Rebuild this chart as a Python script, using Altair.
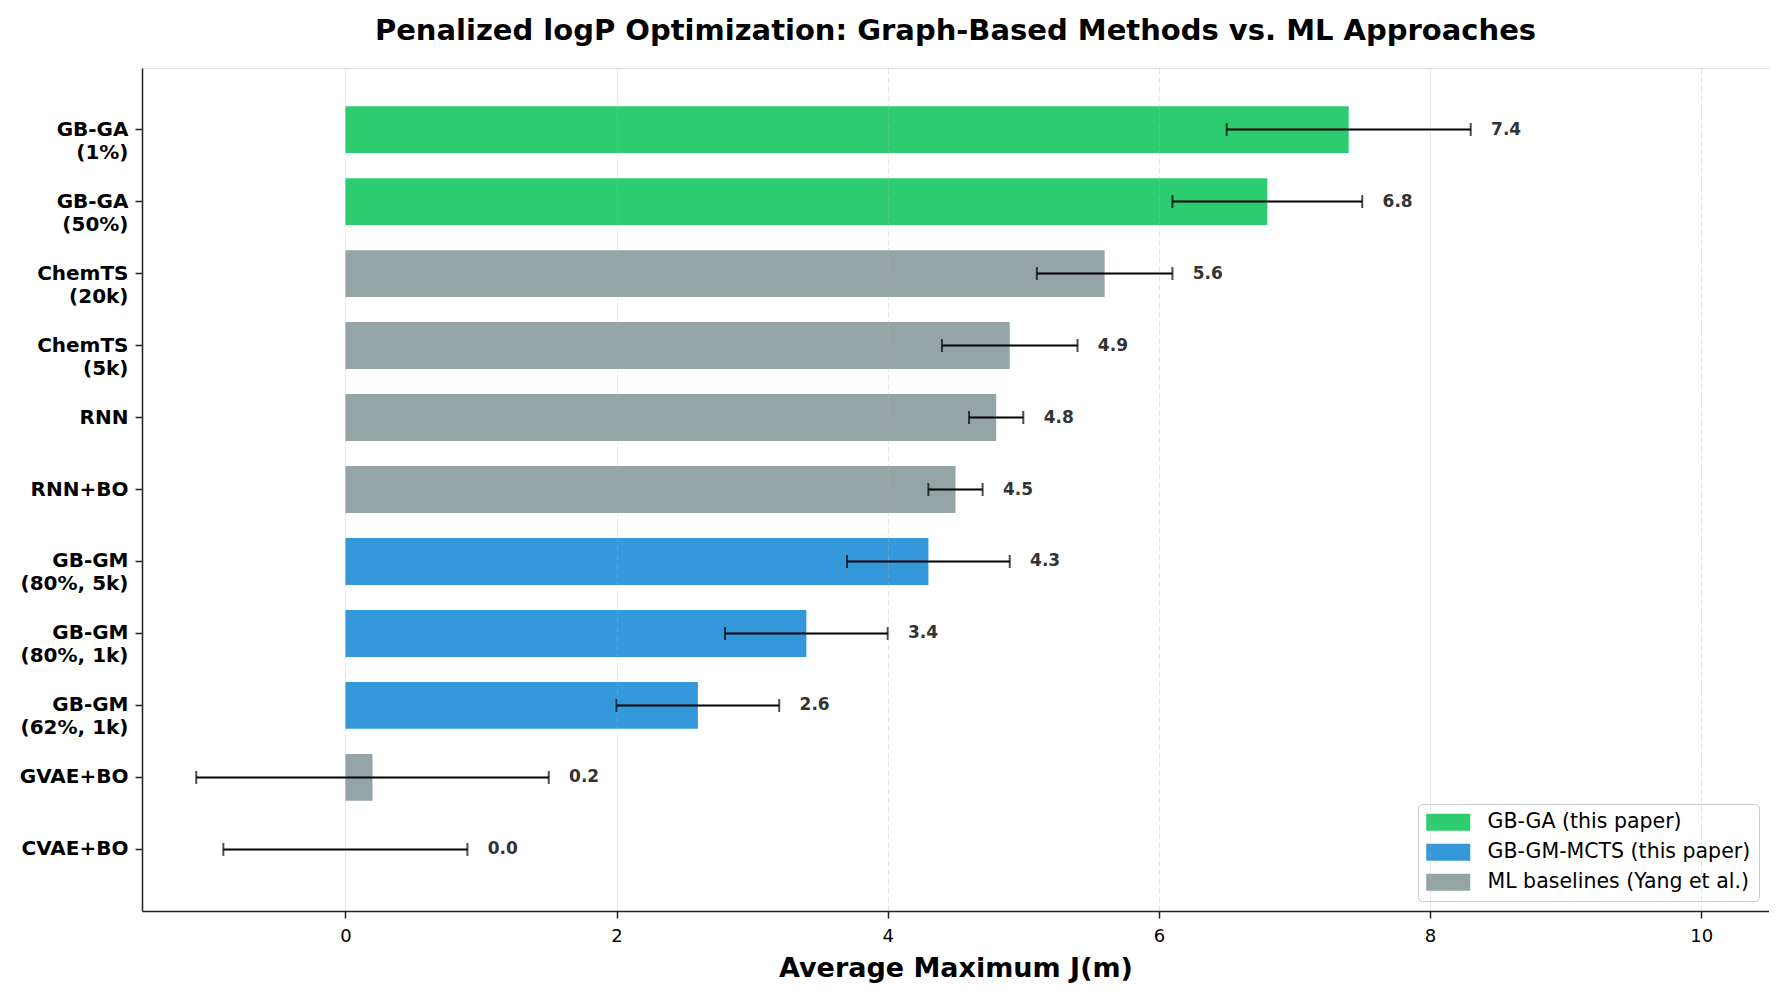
import altair as alt
import pandas as pd

methods = ["GB-GA\n(1%)", "GB-GA\n(50%)", "ChemTS\n(20k)", "ChemTS\n(5k)", "RNN", "RNN+BO",
           "GB-GM\n(80%, 5k)", "GB-GM\n(80%, 1k)", "GB-GM\n(62%, 1k)", "GVAE+BO", "CVAE+BO"]
values = [7.4, 6.8, 5.6, 4.9, 4.8, 4.5, 4.3, 3.4, 2.6, 0.2, 0.0]
errors = [0.9, 0.7, 0.5, 0.5, 0.2, 0.2, 0.6, 0.6, 0.6, 1.3, 0.9]
groups = ["GB-GA (this paper)", "GB-GA (this paper)",
          "ML baselines (Yang et al.)", "ML baselines (Yang et al.)",
          "ML baselines (Yang et al.)", "ML baselines (Yang et al.)",
          "GB-GM-MCTS (this paper)", "GB-GM-MCTS (this paper)", "GB-GM-MCTS (this paper)",
          "ML baselines (Yang et al.)", "ML baselines (Yang et al.)"]
group_names = ["GB-GA (this paper)", "GB-GM-MCTS (this paper)", "ML baselines (Yang et al.)"]
group_colors = ["#2ecc71", "#3498db", "#95a5a6"]
label_gap = 0.15

df = pd.DataFrame({
    "method": methods,
    "value": values,
    "err": errors,
    "group": groups,
})
df["lo"] = df["value"] - df["err"]
df["hi"] = df["value"] + df["err"]
df["label_x"] = df["hi"] + label_gap
df["label"] = df["value"].map(lambda v: f"{v:.1f}")

FONT = "DejaVu Sans"

y_enc = alt.Y("method:N", sort=methods,
              scale=alt.Scale(paddingInner=0.35, paddingOuter=0.53),
              axis=alt.Axis(title=None, labelExpr="split(datum.value, '\\n')",
                            labelFont=FONT, labelFontSize=20, labelFontWeight="bold",
                            labelColor="black", labelLineHeight=23, labelPadding=7,
                            tickSize=7, tickColor="#222", tickWidth=1.5,
                            domainColor="#222", domainWidth=1.5, grid=False))

x_scale = alt.Scale(domain=[-1.5, 10.5], nice=False, zero=False)

bars = alt.Chart(df).mark_bar().encode(
    x=alt.X("value:Q", scale=x_scale,
            axis=alt.Axis(title="Average Maximum J(m)", values=[0, 2, 4, 6, 8, 10],
                          format="d", labelFont=FONT, labelFontSize=18, labelColor="black",
                          labelPadding=9, tickSize=7, tickColor="#222", tickWidth=1.5,
                          domainColor="#222", domainWidth=1.5,
                          titleFont=FONT, titleFontSize=27, titleFontWeight="bold",
                          titleColor="black", titlePadding=10,
                          grid=True, gridColor="#b0b0b0", gridOpacity=0.35,
                          gridDash=[6, 3], gridWidth=1, zindex=1)),
    x2=alt.X2(datum=0),
    y=y_enc,
    color=alt.Color("group:N", scale=alt.Scale(domain=group_names, range=group_colors),
                    legend=alt.Legend(title=None, orient="bottom-right", offset=10,
                                      labelFont=FONT, labelFontSize=20.5, labelColor="black",
                                      symbolType="M-1,-0.85L3.4,-0.85L3.4,0.85L-1,0.85Z",
                                      symbolSize=400, symbolStrokeWidth=0, symbolOpacity=1,
                                      labelOffset=41, rowPadding=9, padding=8,
                                      fillColor="rgba(255,255,255,0.85)", strokeColor="#cccccc",
                                      cornerRadius=4, labelLimit=400)),
)

err_rule = alt.Chart(df).mark_rule(color="black", strokeWidth=2).encode(
    x="lo:Q", x2="hi:Q", y=alt.Y("method:N", sort=methods)
)
cap_lo = alt.Chart(df).mark_tick(color="black", thickness=2, size=13).encode(
    x="lo:Q", y=alt.Y("method:N", sort=methods)
)
cap_hi = alt.Chart(df).mark_tick(color="black", thickness=2, size=13).encode(
    x="hi:Q", y=alt.Y("method:N", sort=methods)
)
labels = alt.Chart(df).mark_text(align="left", baseline="middle", font=FONT, fontSize=17,
                                 fontWeight="bold", color="#333333").encode(
    x="label_x:Q", y=alt.Y("method:N", sort=methods), text="label:N"
)

chart = alt.layer(bars, err_rule, cap_lo, cap_hi, labels).properties(
    width=1627, height=843,
    padding={"left": 11, "right": 0, "top": 9, "bottom": 5},
    title=alt.TitleParams("Penalized logP Optimization: Graph-Based Methods vs. ML Approaches",
                          font=FONT, fontSize=29, fontWeight="bold", color="black",
                          anchor="middle", offset=22),
).configure_view(stroke=None).configure(background="white")

chart.save("out.html", embed_options={"renderer": "svg", "actions": False})
